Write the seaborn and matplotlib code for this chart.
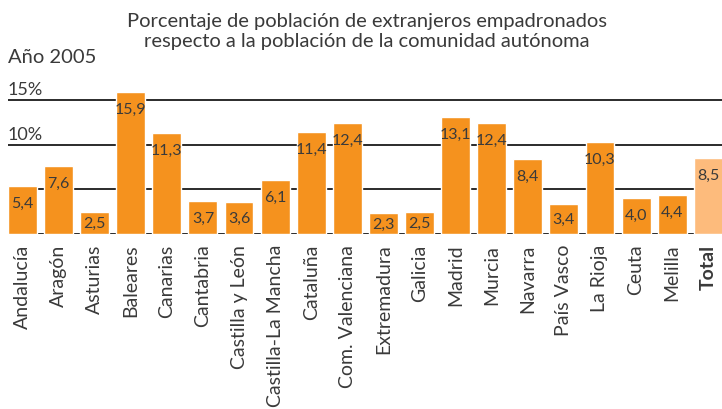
import matplotlib
matplotlib.use("Agg")
import matplotlib.pyplot as plt
import seaborn as sns

# data
regiones = ["Andalucía", "Aragón", "Asturias", "Baleares", "Canarias", "Cantabria",
            "Castilla y León", "Castilla-La Mancha", "Cataluña", "Com. Valenciana",
            "Extremadura", "Galicia", "Madrid", "Murcia", "Navarra", "País Vasco",
            "La Rioja", "Ceuta", "Melilla", "Total"]
porcentajes = [5.4, 7.6, 2.5, 15.9, 11.3, 3.7, 3.6, 6.1, 11.4, 12.4,
               2.3, 2.5, 13.1, 12.4, 8.4, 3.4, 10.3, 4.0, 4.4, 8.5]
grid_vals = [5, 10, 15]
grid_labels = {10: "10%", 15: "15%"}

ORANGE = "#F5921E"
LIGHT = "#FDBB7C"
TEXT = "#3a3a3a"

sns.set_style("white")
plt.rcParams["font.family"] = ["Lato", "DejaVu Sans"]

fig = plt.figure(figsize=(7.22, 4.10), dpi=100)
ax = fig.add_axes([8 / 722, 175 / 410, 1 - 8 / 722, 0.40])

colors = [ORANGE] * (len(regiones) - 1) + [LIGHT]
sns.barplot(x=regiones, y=porcentajes, hue=regiones, palette=colors,
            legend=False, width=0.8, saturation=1, ax=ax, zorder=3)

for g in [0] + grid_vals:
    ax.axhline(g, color="#2b2b2b", lw=1.4, zorder=1)
for g, lab in grid_labels.items():
    ax.text(-0.4, g + 0.3, lab, ha="left", va="bottom", fontsize=13,
            color=TEXT)

# value labels inside the top of each bar
for i, v in enumerate(porcentajes):
    off = min(1.9, v / 2)
    ax.text(i, v - off, f"{v:.1f}".replace(".", ","), ha="center", va="center",
            fontsize=11.5, color=TEXT, zorder=4)

ax.set_xlim(-0.4, 19.38)
ax.set_ylim(0, 18.36)
ax.set_yticks([])
ax.set_ylabel("")
ax.tick_params(axis="x", length=0, pad=7)
ax.set_xticks(range(len(regiones)))
ax.set_xticklabels(regiones, rotation=90, fontsize=14, color=TEXT, va="top")
ax.get_xticklabels()[-1].set_fontweight("bold")
for s in ax.spines.values():
    s.set_visible(False)

fig.text(0.508, 0.923, "Porcentaje de población de extranjeros empadronados\n"
         "respecto a la población de la comunidad autónoma",
         ha="center", va="center", fontsize=14.5, color=TEXT, linespacing=1.25)
fig.text(8 / 722, 0.859, "Año 2005", ha="left", va="center", fontsize=14.5,
         color=TEXT)

fig.savefig("out.png", dpi=100)
